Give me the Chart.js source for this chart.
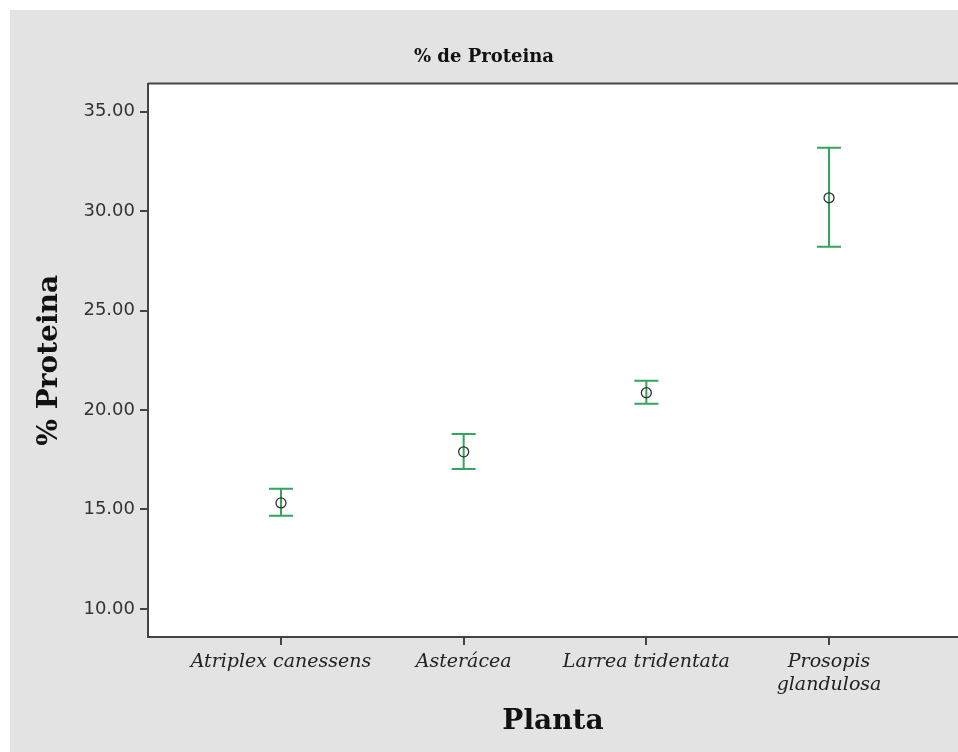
<!DOCTYPE html>
<html>
<head>
<meta charset="utf-8">
<script src="https://cdn.jsdelivr.net/npm/chart.js@4/dist/chart.umd.min.js"></script>
<style>
    body { margin: 0; background: #ffffff; overflow: hidden; }
    #wrap { position: absolute; left: 10px; top: 10px; width: 948px; height: 742px; }
</style>
</head>
<body>
<div id="wrap"><canvas id="proteinChart" width="948" height="742"></canvas></div>
<script>
// Data
const categories = ['Atriplex canessens', 'Asterácea', 'Larrea tridentata', 'Prosopis glandulosa'];
const tickLabels = ['Atriplex canessens', 'Asterácea', 'Larrea tridentata', ['Prosopis', 'glandulosa']];
const means = [15.33, 17.90, 20.87, 30.67];
const lowerCI = [14.68, 17.04, 20.31, 28.21];
const upperCI = [16.04, 18.80, 21.47, 33.19];
const yTicks = [10, 15, 20, 25, 30, 35];

const axisColor = '#444444';
const barColor = '#34a35c';

// Grey page background + white plot box
const backgroundPlugin = {
    id: 'spssBackground',
    beforeDraw(chart) {
        const { ctx, chartArea } = chart;
        ctx.save();
        ctx.fillStyle = '#e3e3e3';
        ctx.fillRect(0, 0, chart.width, chart.height);
        ctx.fillStyle = '#ffffff';
        ctx.fillRect(chartArea.left, chartArea.top, chart.width - chartArea.left, chartArea.bottom - chartArea.top);
        ctx.strokeStyle = axisColor;
        ctx.lineWidth = 2;
        ctx.beginPath();
        ctx.moveTo(chartArea.left, chartArea.top);
        ctx.lineTo(chart.width, chartArea.top);
        ctx.stroke();
        ctx.restore();
    }
};

// Error bars drawn from the scales
const errorBarPlugin = {
    id: 'errorBars',
    beforeDatasetsDraw(chart) {
        const { ctx, scales } = chart;
        ctx.save();
        ctx.strokeStyle = barColor;
        ctx.lineWidth = 2;
        means.forEach((m, i) => {
            const x = scales.x.getPixelForValue(i);
            const yLo = scales.y.getPixelForValue(lowerCI[i]);
            const yHi = scales.y.getPixelForValue(upperCI[i]);
            ctx.beginPath();
            ctx.moveTo(x, yLo);
            ctx.lineTo(x, yHi);
            ctx.moveTo(x - 12, yLo);
            ctx.lineTo(x + 12, yLo);
            ctx.moveTo(x - 12, yHi);
            ctx.lineTo(x + 12, yHi);
            ctx.stroke();
        });
        ctx.restore();
    }
};

const ctx = document.getElementById('proteinChart').getContext('2d');
const proteinChart = new Chart(ctx, {
    type: 'scatter',
    data: {
        datasets: [{
            label: '% Proteina',
            data: means.map((m, i) => ({ x: i, y: m })),
            pointRadius: 5,
            pointHoverRadius: 5,
            borderWidth: 1.3,
            borderColor: '#333333',
            backgroundColor: 'rgba(0,0,0,0)'
        }]
    },
    options: {
        responsive: false,
        animation: false,
        layout: { padding: 0, autoPadding: false },
        plugins: {
            legend: { display: false },
            tooltip: { enabled: false },
            title: {
                display: true,
                text: '% de Proteina',
                color: '#111111',
                font: { family: 'DejaVu Serif', size: 18, weight: 'bold', lineHeight: 1.2 },
                padding: { top: 37, bottom: 15 }
            }
        },
        scales: {
            x: {
                type: 'linear',
                min: -0.728,
                max: 3.706,
                afterBuildTicks: scale => { scale.ticks = categories.map((c, i) => ({ value: i })); },
                afterFit: scale => {
                    scale.height = 115;
                    scale.paddingLeft = 0;
                    scale.paddingRight = 0;
                },
                ticks: {
                    callback: value => tickLabels[value],
                    color: '#222222',
                    padding: 6,
                    maxRotation: 0,
                    autoSkip: false,
                    font: { family: 'DejaVu Serif', size: 19, style: 'italic', lineHeight: 1.2 }
                },
                grid: { drawOnChartArea: false, tickLength: 8, color: axisColor, lineWidth: 2 },
                border: { color: axisColor, width: 2 },
                title: {
                    display: true,
                    text: 'Planta',
                    color: '#111111',
                    font: { family: 'DejaVu Serif', size: 28, weight: 'bold', lineHeight: 1.2 },
                    padding: { top: 0, bottom: 13 }
                }
            },
            y: {
                min: 8.59,
                max: 36.41,
                afterBuildTicks: scale => { scale.ticks = yTicks.map(v => ({ value: v })); },
                afterFit: scale => {
                    scale.width = 138;
                    scale.paddingTop = 0;
                    scale.paddingBottom = 0;
                },
                ticks: {
                    callback: value => value.toFixed(2),
                    color: '#333333',
                    padding: 5,
                    font: { family: 'DejaVu Sans', size: 18 }
                },
                grid: { drawOnChartArea: false, tickLength: 8, color: axisColor, lineWidth: 2 },
                border: { color: axisColor, width: 2 },
                title: {
                    display: true,
                    text: '% Proteina',
                    color: '#111111',
                    font: { family: 'DejaVu Serif', size: 28, weight: 'bold', lineHeight: 1.2 },
                    padding: { top: 23, bottom: 0 }
                }
            }
        }
    },
    plugins: [backgroundPlugin, errorBarPlugin]
});
</script>
</body>
</html>
